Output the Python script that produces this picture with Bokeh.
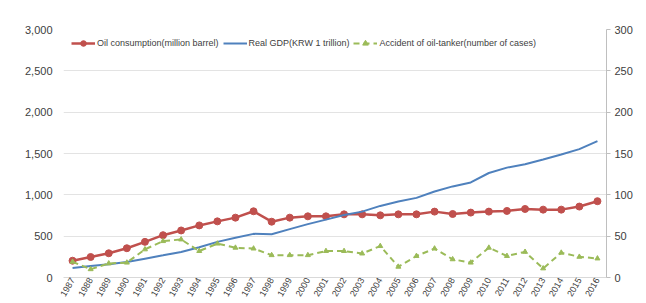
from bokeh.plotting import figure
from bokeh.models import (Range1d, LinearAxis, FixedTicker, NumeralTickFormatter,
                          Legend, LegendItem, ColumnDataSource)
from bokeh.embed import file_html
from bokeh.resources import INLINE
import math

years = [str(y) for y in range(1987, 2017)]

oil_consumption = [203, 248, 293, 354, 431, 512, 569, 630, 679, 724,
                   801, 675, 724, 740, 740, 764, 764, 752, 764, 764,
                   797, 768, 785, 797, 805, 829, 821, 821, 858, 923]

real_gdp = [114, 138, 159, 187, 228, 268, 309, 366, 431, 480,
            528, 524, 585, 646, 700, 756, 797, 866, 919, 963,
            1041, 1102, 1150, 1264, 1329, 1370, 1427, 1488, 1553, 1650]

tanker_accidents = [19, 10, 17, 18, 34, 44, 46, 32, 41, 36,
                    35, 27, 27, 27, 32, 32, 29, 38, 13, 26,
                    35, 22, 18, 36, 26, 31, 11, 30, 25, 23]

left_ticks = [0, 500, 1000, 1500, 2000, 2500, 3000]
right_ticks = [0, 50, 100, 150, 200, 250, 300]

RED = "#c0504d"
BLUE = "#4f81bd"
GREEN = "#9bbb59"
TEXT = "#404040"
FONT = "Liberation Sans"

src = ColumnDataSource(dict(year=years, oil=oil_consumption, gdp=real_gdp,
                            acc=tanker_accidents))

p = figure(width=646, height=303, x_range=years, y_range=Range1d(0, 3000),
           output_backend="svg", toolbar_location=None,
           min_border_left=63, min_border_right=40, min_border_top=29,
           min_border_bottom=26)
p.x_range.range_padding = 0
p.extra_y_ranges = {"cases": Range1d(0, 300)}
p.outline_line_color = None
p.background_fill_color = "white"
p.border_fill_color = "white"

# grid
p.xgrid.grid_line_color = None
p.ygrid.grid_line_color = "#e3e3e3"
p.ygrid.grid_line_width = 1
p.ygrid.ticker = FixedTicker(ticks=left_ticks)

# left axis
ly = p.yaxis[0]
ly.ticker = FixedTicker(ticks=left_ticks)
ly.formatter = NumeralTickFormatter(format="0,0")
ly.axis_line_color = None
ly.major_tick_line_color = None
ly.minor_tick_line_color = None
ly.major_label_text_font = FONT
ly.major_label_text_font_size = "11px"
ly.major_label_text_color = TEXT
ly.major_label_standoff = 5

# right axis
ry = LinearAxis(y_range_name="cases", ticker=FixedTicker(ticks=right_ticks))
ry.axis_line_color = "#bfbfbf"
ry.major_tick_line_color = "#bfbfbf"
ry.major_tick_out = 4
ry.major_tick_in = 0
ry.minor_tick_line_color = None
ry.major_label_text_font = FONT
ry.major_label_text_font_size = "11px"
ry.major_label_text_color = TEXT
ry.major_label_standoff = 4
p.add_layout(ry, "right")

# bottom axis
bx = p.xaxis[0]
bx.axis_line_color = "#d9d9d9"
bx.major_tick_line_color = None
bx.major_tick_out = 0
bx.major_tick_in = 0
bx.minor_tick_line_color = None
bx.major_label_orientation = math.pi / 3
bx.major_label_text_font = FONT
bx.major_label_text_font_size = "9px"
bx.major_label_text_color = TEXT
bx.major_label_standoff = 1

# series
r_oil_l = p.line("year", "oil", source=src, color=RED, line_width=2.5)
r_oil_m = p.scatter("year", "oil", source=src, color=RED, size=7, marker="circle")
r_gdp = p.line("year", "gdp", source=src, color=BLUE, line_width=2)
r_acc_l = p.line("year", "acc", source=src, color=GREEN, line_width=2,
                 line_dash="6 4", y_range_name="cases")
r_acc_m = p.scatter("year", "acc", source=src, color=GREEN, size=5,
                    marker="triangle", y_range_name="cases")

legend = Legend(items=[
    LegendItem(label="Oil consumption(million barrel)", renderers=[r_oil_l, r_oil_m]),
    LegendItem(label="Real GDP(KRW 1 trillion)", renderers=[r_gdp]),
    LegendItem(label="Accident of oil-tanker(number of cases)", renderers=[r_acc_l, r_acc_m]),
], orientation="horizontal", location=(8, 227), margin=0, padding=3,
    spacing=4, glyph_width=24, glyph_height=14, label_height=14,
    label_standoff=2, border_line_color=None, background_fill_alpha=0,
    label_text_font=FONT, label_text_font_size="9px", label_text_color=TEXT)
p.add_layout(legend, "center")

open("out.html", "w").write(file_html(p, INLINE))
